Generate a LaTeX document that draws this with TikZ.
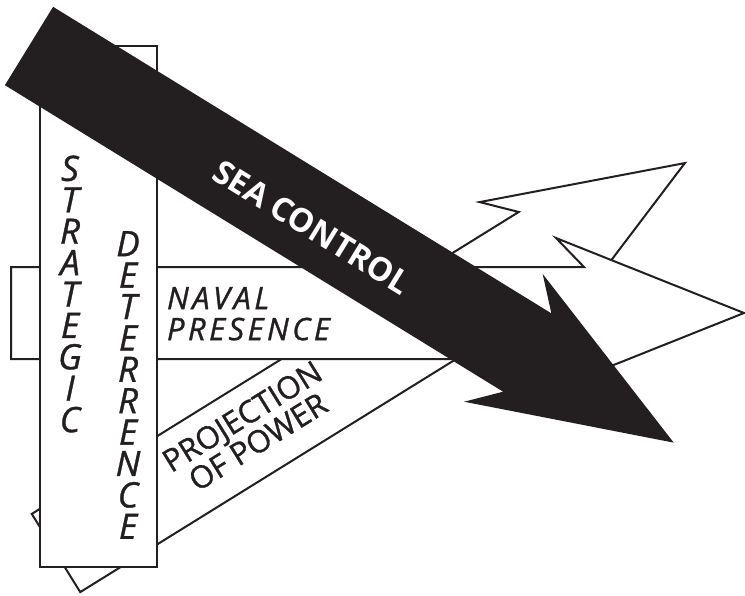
\documentclass[tikz,border=0pt]{standalone}
\usepackage{fontspec}
\setmainfont{Open Sans}
\newfontfamily\heavysans{Open Sans}[FakeBold=1]
\usetikzlibrary{positioning}

\definecolor{ink}{RGB}{35,31,32}

% outline of a flat arrow: #1 = length, #2 = head length
\newcommand{\flatarrow}[2]{(0,-46) -- ({#1-#2},-46) -- ({#1-#2-28},-75) -- (#1,0) -- ({#1-#2-28},75) -- ({#1-#2},46) -- (0,46) -- cycle}

\begin{document}
\begin{tikzpicture}[x=0.5pt, y=-0.5pt, line width=1pt, every node/.style={inner sep=0, outer sep=0, text=ink},
	band/.style={draw=ink, fill=white},
	stack/.style={align=center, font=\heavysans\fontsize{17.5}{15.7}\selectfont\itshape},
	bandtext/.style={font=\heavysans\fontsize{15.5}{15.5}\selectfont}]

		\useasboundingbox (0,0) rectangle (745,595);

		%Shapes
		\draw[band, shift={(56,553)}, rotate=31.8] \flatarrow{740}{167};
		\draw[band, shift={(11,313)}] \flatarrow{733}{160};
		\draw[band] (40,46) rectangle (157,567);
		\fill[ink, shift={(29,46)}, rotate=-31.6] \flatarrow{757}{172};

		%Nodes
		\node[stack] (strategic) at (70,294) {S\\T\\R\\A\\T\\E\\G\\I\\C};
		\node[stack] (deterrence) at (128,385) {D\\E\\T\\E\\R\\R\\E\\N\\C\\E};
		\node[bandtext, font=\heavysans\fontsize{15.5}{15.5}\selectfont\itshape\addfontfeatures{LetterSpace=11}, align=left, anchor=north west] (naval) at (167,287) {NAVAL\\PRESENCE};
		\node[bandtext, font=\heavysans\fontsize{15.5}{15}\selectfont, align=center, rotate=31.8] (projection) at (250,429) {PROJECTION\\OF POWER};
		\node[font=\fontsize{16.3}{18}\selectfont\bfseries, text=white, rotate=-31.6] (seacontrol) at (312,227) {SEA CONTROL};
	\end{tikzpicture}
\end{document}
